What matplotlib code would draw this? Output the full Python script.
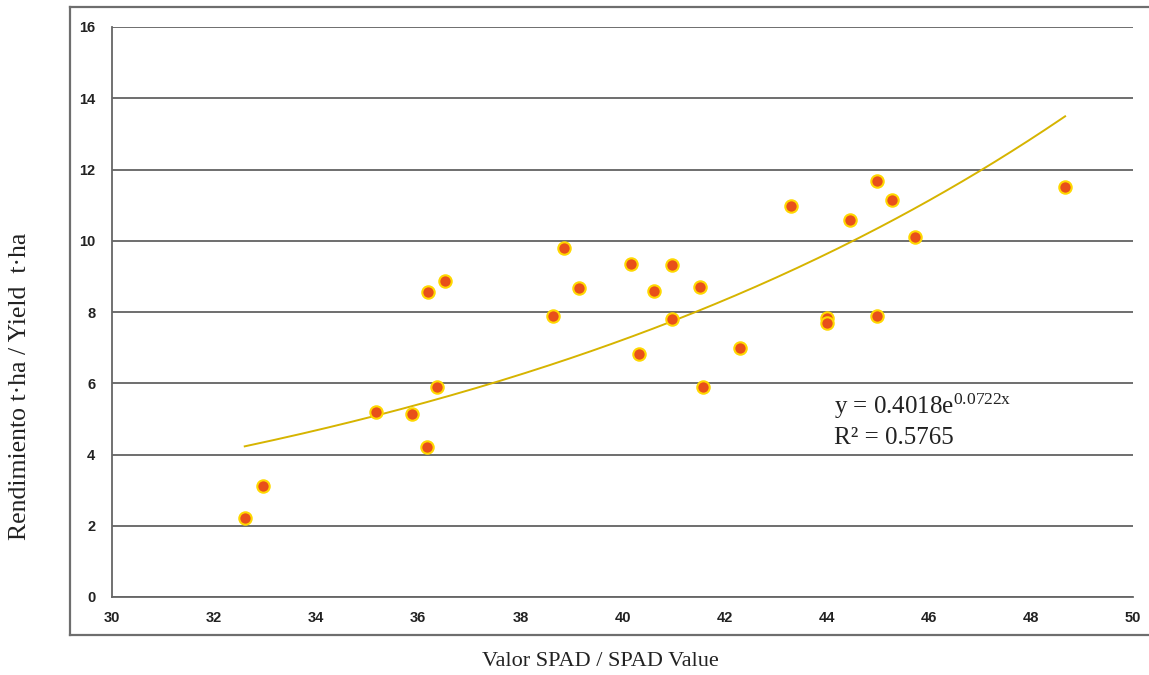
import numpy as np
import matplotlib
matplotlib.use("Agg")
import matplotlib.pyplot as plt
from matplotlib.lines import Line2D

plt.rcParams["mathtext.fontset"] = "custom"
plt.rcParams["mathtext.rm"] = "Liberation Serif"
plt.rcParams["mathtext.it"] = "Liberation Serif:italic"

spad = [32.6, 32.96, 35.17, 35.88, 36.17, 36.19, 36.37, 36.52, 38.64, 38.85,
        39.15, 40.17, 40.32, 40.62, 40.97, 40.97, 41.52, 41.58, 42.30, 43.30,
        44.0, 44.0, 44.46, 44.98, 44.98, 45.28, 45.73, 48.67]
yield_t = [2.22, 3.12, 5.20, 5.14, 4.21, 8.57, 5.90, 8.88, 7.89, 9.80,
           8.68, 9.35, 6.83, 8.60, 9.33, 7.81, 8.71, 5.90, 6.99, 10.98,
           7.82, 7.70, 10.59, 11.69, 7.89, 11.15, 10.11, 11.52]
fit_a = 0.4018
fit_b = 0.0722
x_ticks = [30, 32, 34, 36, 38, 40, 42, 44, 46, 48, 50]
y_ticks = [0, 2, 4, 6, 8, 10, 12, 14, 16]

W, H = 1149, 675
fig = plt.figure(figsize=(W / 100, H / 100), dpi=100)

# outer frame (right side runs off the image)
frame_col = "#6e6e6e"
fig.add_artist(Line2D([70 / W, 70 / W], [1 - 7 / H, 1 - 635 / H], color=frame_col, lw=1.6, transform=fig.transFigure))
fig.add_artist(Line2D([70 / W, 1.0], [1 - 7 / H, 1 - 7 / H], color=frame_col, lw=1.6, transform=fig.transFigure))
fig.add_artist(Line2D([70 / W, 1.0], [1 - 635 / H, 1 - 635 / H], color=frame_col, lw=1.6, transform=fig.transFigure))

ax = fig.add_axes([112 / W, 1 - 597 / H, (1133 - 112) / W, (597 - 27) / H])
ax.set_xlim(30, 50)
ax.set_ylim(0, 16)
ax.set_xticks(x_ticks)
ax.set_yticks(y_ticks)
ax.tick_params(length=0)
for lab in ax.get_xticklabels() + ax.get_yticklabels():
    lab.set_fontfamily("Liberation Sans")
    lab.set_fontweight("bold")
    lab.set_fontsize(10.5)
    lab.set_color("#222222")
ax.tick_params(axis="x", pad=10)
ax.tick_params(axis="y", pad=12)

for s in ["top", "right"]:
    ax.spines[s].set_visible(False)
for s in ["left", "bottom"]:
    ax.spines[s].set_color("#666666")
    ax.spines[s].set_linewidth(1.3)
ax.grid(axis="y", color="#555555", lw=1.2)
ax.set_axisbelow(True)

xf = np.linspace(min(spad), max(spad), 200)
ax.plot(xf, fit_a * np.exp(fit_b * xf), color="#D6B400", lw=1.4, zorder=2)
ax.scatter(spad, yield_t, s=80, color="#E8501A", edgecolor="#FFD800", linewidth=1.5, zorder=3)

ax.text(44.15, 5.34, r"y = 0.4018e$^{\mathrm{0.0722x}}$", fontsize=18, family="Liberation Serif",
        va="center", ha="left", color="#222222")
ax.text(44.15, 4.45, "R² = 0.5765", fontsize=18, family="Liberation Serif",
        va="center", ha="left", color="#222222")

fig.text(600 / W, 1 - 661 / H, "Valor SPAD / SPAD Value", fontsize=16, family="Liberation Serif",
         ha="center", va="center", color="#222222")
fig.text(20 / W, 1 - 386 / H, "Rendimiento t·ha / Yield  t·ha", fontsize=18.5, family="Liberation Serif",
         ha="center", va="center", rotation=90, color="#222222")

fig.savefig("out.png", dpi=100)
